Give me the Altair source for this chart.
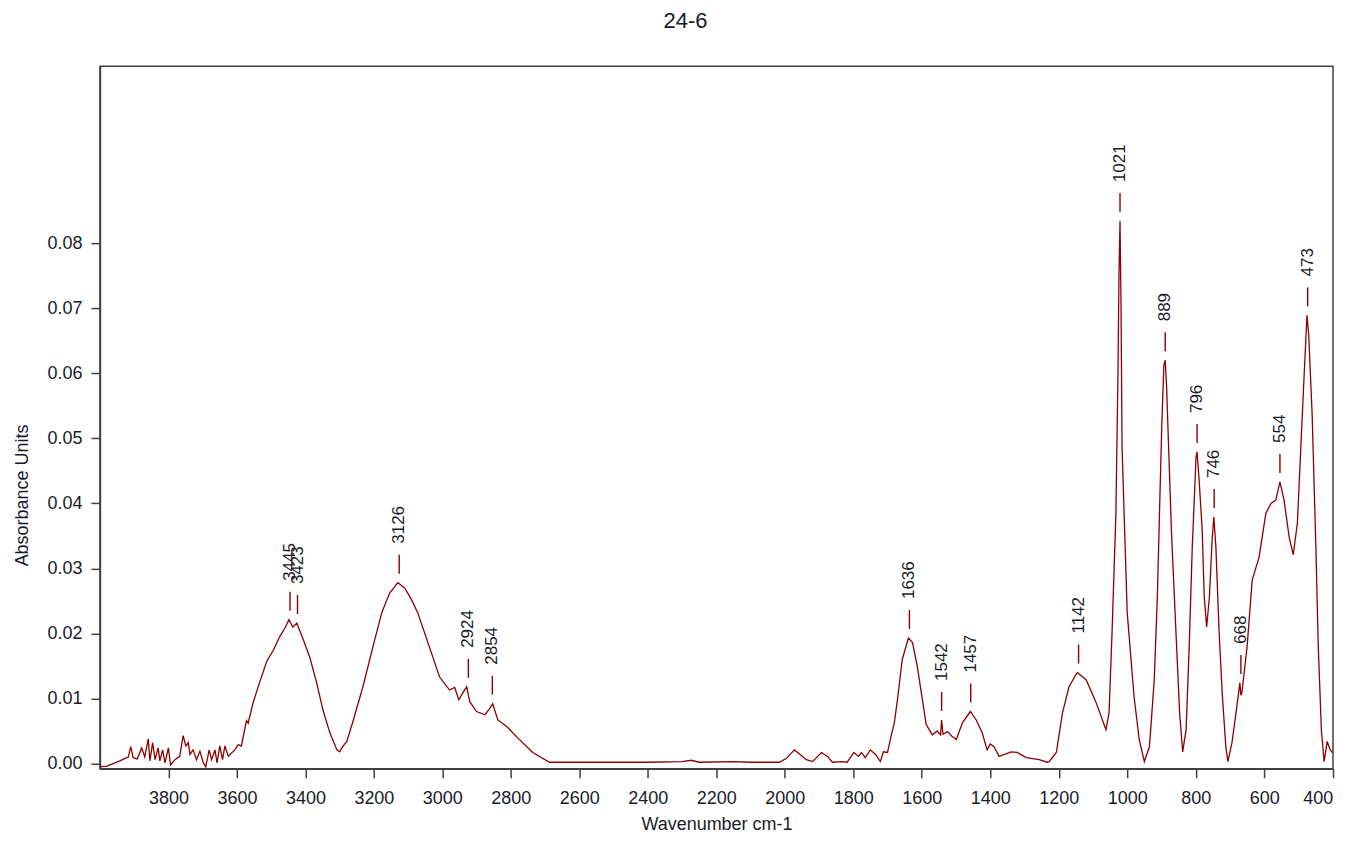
import altair as alt
import pandas as pd

# ---- spectrum (wavenumber cm-1, absorbance) ----
wavenumber = [
    4000, 3980, 3961, 3942, 3927, 3917, 3910, 3903, 3891, 3878, 3869, 3859, 3854, 3846,
    3839, 3830, 3825, 3817, 3810, 3800, 3794, 3781, 3767, 3757, 3749, 3742, 3737, 3728,
    3718, 3708, 3698, 3691, 3681, 3674, 3664, 3658, 3650, 3642, 3635, 3625, 3616, 3606,
    3596, 3587, 3572, 3567, 3553, 3533, 3513, 3493, 3474, 3460, 3448, 3437, 3425, 3408,
    3387, 3367, 3349, 3329, 3308, 3300, 3291, 3279, 3262, 3232, 3203, 3177, 3154, 3130,
    3110, 3090, 3072, 3052, 3028, 3008, 2979, 2964, 2952, 2940, 2929, 2920, 2900, 2876,
    2864, 2853, 2838, 2812, 2783, 2736, 2687, 2637, 2500, 2400, 2300, 2273, 2250, 2150,
    2100, 2016, 1995, 1972, 1955, 1937, 1919, 1893, 1875, 1861, 1832, 1818, 1798, 1785,
    1776, 1765, 1750, 1735, 1721, 1712, 1700, 1690, 1680, 1671, 1657, 1639, 1627, 1613,
    1598, 1587, 1569, 1555, 1545, 1542, 1538, 1525, 1512, 1499, 1481, 1458, 1441, 1424,
    1409, 1400, 1389, 1374, 1339, 1321, 1295, 1257, 1234, 1228, 1207, 1189, 1170, 1146,
    1120, 1091, 1062, 1053, 1044, 1033, 1027, 1024, 1021, 1018, 1015, 1000, 980, 965,
    950, 935, 921, 912, 905, 899, 893, 889, 885, 880, 871, 858, 847, 838, 828, 819,
    810, 799, 796, 790, 781, 775, 768, 760, 752, 747, 741, 732, 722, 712, 706, 694,
    680, 671, 668, 665, 650, 635, 615, 595, 580, 566, 554, 542, 527, 515, 503, 493,
    484, 475, 470, 460, 449, 442, 433, 425, 416, 407, 401,
]
absorbance = [
    -0.0005, -0.0004, 0.0000, 0.0004, 0.0008, 0.0010, 0.0026, 0.0009, 0.0007, 0.0024, 0.0010, 0.0038, 0.0004, 0.0032,
    0.0006, 0.0024, 0.0004, 0.0021, 0.0001, 0.0024, -0.0002, 0.0006, 0.0011, 0.0043, 0.0027, 0.0032, 0.0014, 0.0021,
    0.0006, 0.0019, 0.0001, -0.0005, 0.0021, 0.0006, 0.0021, 0.0001, 0.0027, 0.0006, 0.0027, 0.0011, 0.0016, 0.0021,
    0.0029, 0.0027, 0.0066, 0.0062, 0.0093, 0.0126, 0.0157, 0.0175, 0.0196, 0.0208, 0.0221, 0.0210, 0.0216, 0.0193,
    0.0163, 0.0124, 0.0083, 0.0048, 0.0021, 0.0018, 0.0026, 0.0034, 0.0063, 0.0118, 0.0179, 0.0232, 0.0262, 0.0278,
    0.0270, 0.0252, 0.0232, 0.0201, 0.0164, 0.0133, 0.0113, 0.0117, 0.0098, 0.0109, 0.0118, 0.0095, 0.0080, 0.0075,
    0.0083, 0.0092, 0.0067, 0.0057, 0.0041, 0.0017, 0.0002, 0.0002, 0.0002, 0.0002, 0.0003, 0.0005, 0.0002, 0.0003,
    0.0002, 0.0002, 0.0008, 0.0021, 0.0014, 0.0006, 0.0003, 0.0017, 0.0011, 0.0002, 0.0003, 0.0002, 0.0017, 0.0011,
    0.0017, 0.0009, 0.0021, 0.0014, 0.0003, 0.0018, 0.0017, 0.0041, 0.0063, 0.0098, 0.0160, 0.0193, 0.0186, 0.0149,
    0.0098, 0.0060, 0.0044, 0.0050, 0.0044, 0.0067, 0.0045, 0.0049, 0.0042, 0.0037, 0.0063, 0.0080, 0.0067, 0.0048,
    0.0021, 0.0030, 0.0026, 0.0011, 0.0018, 0.0017, 0.0009, 0.0006, 0.0002, 0.0003, 0.0017, 0.0078, 0.0118, 0.0140,
    0.0129, 0.0094, 0.0052, 0.0078, 0.0206, 0.0385, 0.0600, 0.0750, 0.0834, 0.0700, 0.0486, 0.0232, 0.0103, 0.0037,
    0.0003, 0.0026, 0.0129, 0.0256, 0.0400, 0.0520, 0.0612, 0.0620, 0.0580, 0.0500, 0.0359, 0.0206, 0.0078, 0.0018, 0.0052, 0.0179,
    0.0333, 0.0471, 0.0479, 0.0436, 0.0359, 0.0256, 0.0210, 0.0256, 0.0344, 0.0379, 0.0333, 0.0206, 0.0103, 0.0026, 0.0003, 0.0032,
    0.0087, 0.0124, 0.0105, 0.0109, 0.0179, 0.0282, 0.0317, 0.0385, 0.0400, 0.0405, 0.0433, 0.0405, 0.0348, 0.0321, 0.0370, 0.0486,
    0.0589, 0.0689, 0.0660, 0.0538, 0.0333, 0.0179, 0.0052, 0.0003, 0.0034, 0.0021, 0.0017,
]

# ---- labelled peaks ----
peak_wn = [3445, 3423, 3126, 2924, 2854, 1636, 1542, 1457, 1142, 1021, 889, 796, 746, 668, 554, 473]
peak_abs = [0.0221, 0.0216, 0.0278, 0.0118, 0.0092, 0.0193, 0.0067, 0.0080, 0.0140, 0.0834,
            0.0620, 0.0479, 0.0379, 0.0124, 0.0433, 0.0689]
peak_text = ["3445", "3423", "3126", "2924", "2854", "1636", "1542", "1457", "1142", "1021",
             "889", "796", "746", "668", "554", "473"]

chart_title = ["24-6"]

x_ticks = [3800, 3600, 3400, 3200, 3000, 2800, 2600, 2400, 2200, 2000, 1800, 1600, 1400, 1200, 1000, 800, 600, 400]
y_ticks = [0.00, 0.01, 0.02, 0.03, 0.04, 0.05, 0.06, 0.07, 0.08]

spec = pd.DataFrame({"wn": wavenumber, "A": absorbance})
peaks = pd.DataFrame({"wn": peak_wn, "A": peak_abs, "label": peak_text})
title_df = pd.DataFrame({"t": chart_title})

LINE = "#8b0000"
TXT = "#1a1a2a"
FONT = "Liberation Sans"

xenc = alt.X(
    "wn:Q",
    scale=alt.Scale(domain=[399, 4000], reverse=True, nice=False, zero=False),
    axis=alt.Axis(values=x_ticks, title="Wavenumber cm-1", format="d",
                  titleX=617, titleY=61, titleBaseline="alphabetic", titleAlign="center",
                  labelPadding=12),
)
yenc = alt.Y(
    "A:Q",
    scale=alt.Scale(domain=[-0.0008, 0.1072], nice=False, zero=False),
    axis=alt.Axis(values=y_ticks, format=".2f", title="Absorbance Units",
                  titleX=-77, titleY=429, titleAngle=270, titleBaseline="middle",
                  titleAlign="center", labelPadding=9),
)

line = alt.Chart(spec).mark_line(color=LINE, strokeWidth=1.3, clip=True).encode(x=xenc, y=yenc)

dashes = alt.Chart(peaks).mark_rule(color=LINE, strokeWidth=1.4, yOffset=-9, y2Offset=-28).encode(
    x="wn:Q", y="A:Q", y2="A:Q"
)

labels = alt.Chart(peaks).mark_text(
    angle=270, align="left", baseline="middle", yOffset=-39,
    fontSize=17, font=FONT, color=TXT
).encode(x="wn:Q", y="A:Q", text="label:N")

title_mark = alt.Chart(title_df).mark_text(
    align="center", baseline="alphabetic", fontSize=22, font=FONT, color=TXT
).encode(x=alt.value(586), y=alt.value(-38), text="t:N")

chart = (
    alt.layer(line, dashes, labels, title_mark)
    .properties(
        width=1234,
        height=703,
        autosize=alt.AutoSizeParams(type="none"),
        padding={"left": 92, "top": 58, "right": 8, "bottom": 64},
    )
    .configure_view(stroke="#404040", strokeWidth=1.5)
    .configure_axis(
        grid=False,
        domainColor="#404040", domainWidth=1.5,
        tickColor="#404040", tickWidth=1.5, tickSize=9,
        labelFont=FONT, labelFontSize=18, labelColor=TXT,
        titleFont=FONT, titleFontSize=18, titleFontWeight="normal", titleColor=TXT,
    )
)

chart.save("out.html", embed_options={"renderer": "svg", "actions": False})
